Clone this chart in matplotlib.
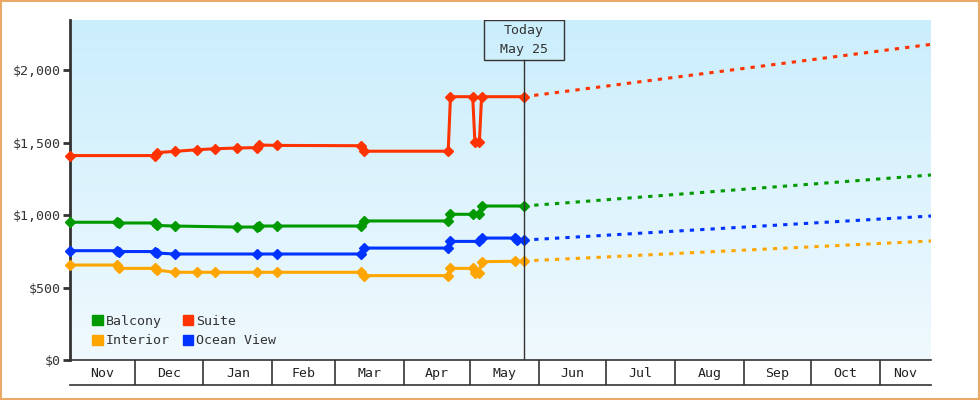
import numpy as np
import pandas as pd
import matplotlib
matplotlib.use("Agg")
import matplotlib.pyplot as plt
import matplotlib.dates as mdates
from matplotlib.colors import LinearSegmentedColormap
from matplotlib.patches import Rectangle, Patch
from matplotlib.transforms import blended_transform_factory

plt.rcParams["font.family"] = ["DejaVu Sans Mono"]

# price history per cabin type (date, price)
balcony_dates = ["2024-11-02", "2024-11-23", "2024-11-24", "2024-12-10", "2024-12-11", "2024-12-19",
                 "2025-01-16", "2025-01-25", "2025-01-26", "2025-02-03", "2025-03-13", "2025-03-14",
                 "2025-04-21", "2025-04-22", "2025-05-02", "2025-05-05", "2025-05-06", "2025-05-25"]
balcony_prices = [950, 950, 945, 945, 928, 924, 917, 917, 924, 924, 924, 959,
                  959, 1005, 1005, 1010, 1062, 1062]

suite_dates = ["2024-11-02", "2024-12-10", "2024-12-11", "2024-12-19", "2024-12-29", "2025-01-06",
               "2025-01-16", "2025-01-25", "2025-01-26", "2025-02-03", "2025-03-13", "2025-03-14",
               "2025-04-21", "2025-04-22", "2025-05-02", "2025-05-03", "2025-05-05", "2025-05-06",
               "2025-05-25"]
suite_prices = [1410, 1410, 1430, 1439, 1450, 1457, 1462, 1465, 1483, 1480, 1478, 1440,
                1440, 1816, 1816, 1501, 1501, 1816, 1816]

interior_dates = ["2024-11-02", "2024-11-23", "2024-11-24", "2024-12-10", "2024-12-11", "2024-12-19",
                  "2024-12-29", "2025-01-06", "2025-01-25", "2025-02-03", "2025-03-13", "2025-03-14",
                  "2025-04-21", "2025-04-22", "2025-05-02", "2025-05-03", "2025-05-05", "2025-05-06",
                  "2025-05-21", "2025-05-25"]
interior_prices = [655, 655, 632, 632, 621, 605, 605, 605, 605, 605, 605, 582,
                   582, 632, 632, 603, 603, 678, 681, 683]

ocean_dates = ["2024-11-02", "2024-11-23", "2024-11-24", "2024-12-10", "2024-12-11", "2024-12-19",
               "2025-01-25", "2025-02-03", "2025-03-13", "2025-03-14", "2025-04-21", "2025-04-22",
               "2025-05-05", "2025-05-06", "2025-05-21", "2025-05-22", "2025-05-25"]
ocean_prices = [754, 754, 748, 748, 738, 731, 731, 731, 731, 772, 772, 818,
                818, 841, 841, 825, 827]

# forecast end values
forecast_end = "2025-11-24"
forecast_balcony = 1276
forecast_suite = 2177
forecast_interior = 821
forecast_ocean = 993

today = pd.Timestamp("2025-05-25")
x_start = pd.Timestamp("2024-11-02")
x_end = pd.Timestamp(forecast_end)

series = [
    ("Balcony", balcony_dates, balcony_prices, forecast_balcony, "#009900"),
    ("Suite", suite_dates, suite_prices, forecast_suite, "#ff3300"),
    ("Interior", interior_dates, interior_prices, forecast_interior, "#ffa500"),
    ("Ocean View", ocean_dates, ocean_prices, forecast_ocean, "#0033ff"),
]

fig = plt.figure(figsize=(9.8, 4.0), dpi=100)
fig.patch.set_facecolor("white")
fig.add_artist(Rectangle((0.001, 0.002), 0.998, 0.996, transform=fig.transFigure,
                         fill=False, ec="#e8aa66", lw=1.5))

ax = fig.add_axes([70 / 980, 40 / 400, 861 / 980, 340 / 400])
ymax = 2345
ax.set_xlim(x_start, x_end)
ax.set_ylim(0, ymax)

# background gradient
grad = LinearSegmentedColormap.from_list("bg", ["#f0f9fe", "#cbeefc"])
ax.imshow(np.linspace(0, 1, 256)[:, None], cmap=grad, aspect="auto", origin="lower",
          extent=[mdates.date2num(x_start), mdates.date2num(x_end), 0, ymax], zorder=0)

for name, dates, prices, fc_end, color in series:
    d = pd.to_datetime(dates)
    ax.plot(d, prices, color=color, lw=2.2, marker="D", ms=5, zorder=3, clip_on=False)
    ax.plot([today, x_end], [prices[-1], fc_end], color=color, lw=2.2,
            linestyle=(0, (1.4, 2.0)), zorder=3)

# today marker
box_h = 40 / 340
trans = blended_transform_factory(ax.transData, ax.transAxes)
ax.axvline(today, ymax=1 - box_h, color="#333333", lw=1, zorder=4)
half_w = pd.Timedelta(days=18)
ax.add_patch(Rectangle((mdates.date2num(today - half_w), 1 - box_h),
                       36, box_h, transform=trans, fill=False, ec="#333333", lw=1, zorder=5))
ax.text(today, 1 - box_h / 2, "Today\nMay 25", transform=trans, ha="center", va="center",
        fontsize=9.5, color="#333333", linespacing=1.6, zorder=5)

ax.yaxis.set_ticks(range(0, 2001, 500))
ax.yaxis.set_major_formatter(plt.FuncFormatter(lambda v, p: "${:,.0f}".format(v)))
ax.tick_params(axis="y", length=5, width=2, color="#333333", labelsize=9.5,
               labelcolor="#333333", pad=2)
ax.set_xticks([])
for s in ["top", "right", "bottom"]:
    ax.spines[s].set_visible(False)
ax.spines["left"].set_linewidth(2)
ax.spines["left"].set_color("#333333")

handles = [Patch(color=c, label=n) for n, _, _, _, c in series]
handles = [handles[0], handles[2], handles[1], handles[3]]
ax.legend(handles=handles, loc="lower left", bbox_to_anchor=(0.020, 0.022), ncol=2,
          frameon=False, fontsize=9.5, handlelength=0.8, handleheight=0.8,
          handletextpad=0.2, columnspacing=1.0, labelspacing=0.5, borderaxespad=0,
          labelcolor="#333333")

# month band under the chart
band = fig.add_axes([70 / 980, 15 / 400, 861 / 980, 25 / 400])
band.set_xlim(x_start, x_end)
band.set_ylim(0, 1)
band.patch.set_alpha(0)
band.set_xticks([])
band.set_yticks([])
for s in ["left", "right"]:
    band.spines[s].set_visible(False)
for s in ["top", "bottom"]:
    band.spines[s].set_color("#333333")
    band.spines[s].set_linewidth(1.2)

month_starts = pd.date_range("2024-11-01", "2025-12-01", freq="MS")
for i in range(len(month_starts) - 1):
    a = max(month_starts[i], x_start)
    b = min(month_starts[i + 1], x_end)
    if month_starts[i] > x_start:
        band.axvline(month_starts[i], color="#333333", lw=1.2)
    band.text(a + (b - a) / 2, 0.45, month_starts[i].strftime("%b"), ha="center", va="center",
              fontsize=9.5, color="#222222")

fig.savefig("out.png", dpi=100)
